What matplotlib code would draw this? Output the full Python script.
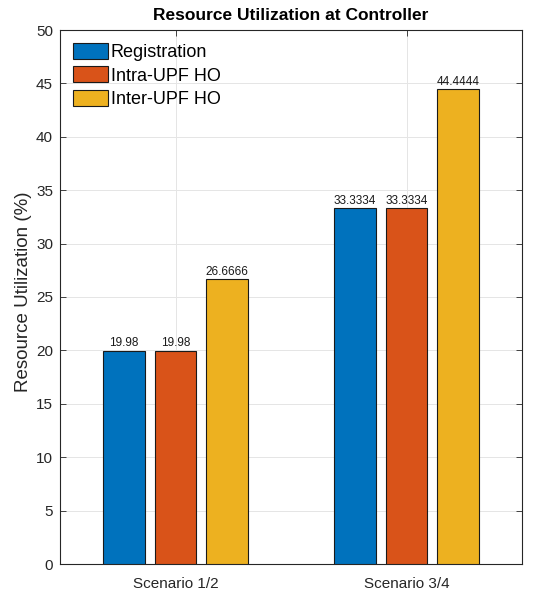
import matplotlib.pyplot as plt
import numpy as np

plt.rcParams['font.family'] = ['Liberation Sans', 'DejaVu Sans']

scenarios = ['Scenario 1/2', 'Scenario 3/4']
series = ['Registration', 'Intra-UPF HO', 'Inter-UPF HO']
registration = [19.98, 33.3334]
intra_ho = [19.98, 33.3334]
inter_ho = [26.6666, 44.4444]
labels = [['19.98', '33.3334'], ['19.98', '33.3334'], ['26.6666', '44.4444']]
colors = ['#0072BD', '#D95319', '#EDB120']

fig = plt.figure(figsize=(5.38, 5.91), dpi=100)
ax = fig.add_axes([60 / 538, 27 / 591, 462 / 538, 534 / 591])

x = np.arange(1, len(scenarios) + 1)
offsets = [-0.222, 0.0, 0.222]
width = 0.181
for vals, off, col, name, lab in zip([registration, intra_ho, inter_ho], offsets, colors, series, labels):
    bars = ax.bar(x + off, vals, width, color=col, edgecolor='#1a1a1a', linewidth=0.8, label=name, zorder=3)
    for b, t in zip(bars, lab):
        ax.text(b.get_x() + b.get_width() / 2, b.get_height() + 0.12, t,
                ha='center', va='bottom', fontsize=8.5, color='#1a1a1a', zorder=4)

ax.set_xlim(0.5, 2.5)
ax.set_ylim(0, 50)
ax.set_yticks(np.arange(0, 51, 5))
ax.set_xticks(x)
ax.set_xticklabels(scenarios)
ax.tick_params(direction='in', length=4, labelsize=11, colors='#262626', top=True, right=True,
               labeltop=False, labelright=False, width=0.6, pad=5)
ax.tick_params(axis='x', pad=9)
ax.grid(True, color='#e5e5e5', linewidth=0.7, zorder=0)
for s in ax.spines.values():
    s.set_color('#262626')
    s.set_linewidth(0.8)

ax.set_ylabel('Resource Utilization (%)', fontsize=13.5, color='#262626')
ax.yaxis.set_label_coords(-0.061, 0.51)
ax.set_title('Resource Utilization at Controller', fontsize=12.5, fontweight='bold', pad=7)
ax.legend(loc='upper left', frameon=False, fontsize=13, handlelength=1.95, handleheight=1.0,
          handletextpad=0.15, labelspacing=0.3, borderaxespad=0.3)

fig.savefig('out.png', dpi=100)
